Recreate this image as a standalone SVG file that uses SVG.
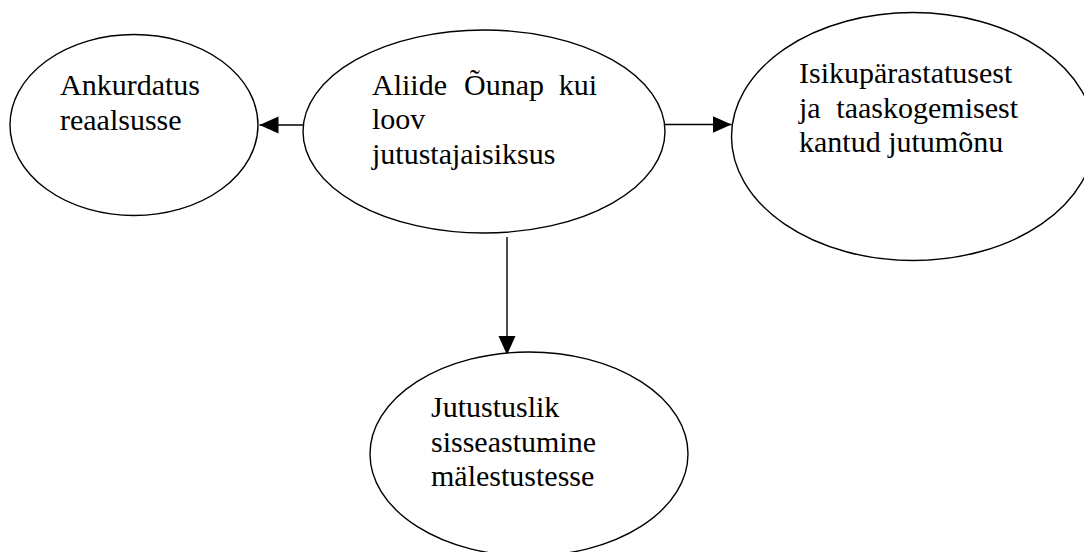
<svg xmlns="http://www.w3.org/2000/svg" width="1084" height="552" viewBox="0 0 1084 552">
  <style>
    .node { fill: #ffffff; stroke: #000000; stroke-width: 1.4; }
    .edge { stroke: #000000; stroke-width: 1.4; fill: none; marker-end: url(#arrow); }
    .label { font-family: "Liberation Serif", "Times New Roman", serif; font-size: 30px; fill: #000000; }
  </style>
  <defs>
    <marker id="arrow" markerUnits="userSpaceOnUse" markerWidth="20" markerHeight="18" refX="19" refY="8.5" orient="auto">
      <path d="M0,0 L19,8.5 L0,17 Z" fill="#000000"/>
    </marker>
  </defs>
  <rect x="0" y="0" width="1084" height="552" fill="#ffffff"/>

  <g id="connectors">
    <line class="edge" x1="303" y1="125" x2="259.5" y2="125"/>
    <line class="edge" x1="665" y1="124.5" x2="731.5" y2="124.5"/>
    <line class="edge" x1="507" y1="237" x2="507" y2="355"/>
  </g>

  <g id="node-ankurdatus">
    <ellipse class="node" cx="134" cy="125" rx="124" ry="90.5"/>
    <text class="label"><tspan x="60" y="95">Ankurdatus</tspan><tspan x="60" y="130">reaalsusse</tspan></text>
  </g>

  <g id="node-aliide">
    <ellipse class="node" cx="484" cy="131.5" rx="181" ry="101.5"/>
    <text class="label"><tspan x="372" y="94.5">Aliide</tspan><tspan x="464" y="94.5">Õunap</tspan><tspan x="597" y="94.5" text-anchor="end">kui</tspan><tspan x="372" y="129">loov</tspan><tspan x="372" y="163.5">jutustajaisiksus</tspan></text>
  </g>

  <g id="node-isikuparastatus">
    <ellipse class="node" cx="913" cy="136.5" rx="181.5" ry="124"/>
    <text class="label"><tspan x="799" y="83">Isikupärastatusest</tspan><tspan x="799" y="117.5">ja</tspan><tspan x="1018" y="117.5" text-anchor="end">taaskogemisest</tspan><tspan x="799" y="152">kantud jutumõnu</tspan></text>
  </g>

  <g id="node-jutustuslik">
    <ellipse class="node" cx="529" cy="454" rx="159" ry="102"/>
    <text class="label"><tspan x="431" y="417">Jutustuslik</tspan><tspan x="431" y="451.5">sisseastumine</tspan><tspan x="431" y="486">mälestustesse</tspan></text>
  </g>
</svg>
